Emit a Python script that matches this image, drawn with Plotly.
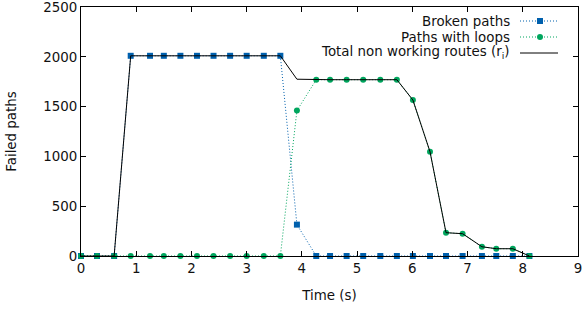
import plotly.graph_objects as go

time_s = [0, 0.29, 0.6, 0.9, 1.25, 1.5, 1.8, 2.1, 2.4, 2.7, 3.0, 3.31, 3.61,
          3.91, 4.26, 4.51, 4.81, 5.11, 5.42, 5.72, 6.01, 6.32, 6.61, 6.91,
          7.26, 7.52, 7.82, 8.12]
broken_paths = [0, 0, 0, 2010, 2010, 2010, 2010, 2010, 2010, 2010, 2010, 2010, 2010,
                315, 0, 0, 0, 0, 0, 0, 0, 0, 0, 0, 0, 0, 0, 0]
loop_paths = [0, 0, 0, 0, 0, 0, 0, 0, 0, 0, 0, 0, 0,
              1460, 1770, 1770, 1770, 1770, 1770, 1770, 1566, 1047, 234, 224,
              93, 73, 73, 0]
total_routes = [b + l for b, l in zip(broken_paths, loop_paths)]

x_ticks = list(range(0, 10))
y_ticks = [0, 500, 1000, 1500, 2000, 2500]

BLUE = "#0060ad"
GREEN = "#00a65e"
FONT = "DejaVu Sans"
FS = 13.4
DOT = "1px,2px"

fig = go.Figure()
fig.add_trace(go.Scatter(x=time_s, y=broken_paths, mode="lines+markers",
                         line=dict(color=BLUE, width=1, dash=DOT),
                         marker=dict(symbol="square", size=6, color=BLUE),
                         name="Broken paths", showlegend=False, cliponaxis=False))
fig.add_trace(go.Scatter(x=time_s, y=loop_paths, mode="lines+markers",
                         line=dict(color=GREEN, width=1, dash=DOT),
                         marker=dict(symbol="circle", size=6, color=GREEN),
                         name="Paths with loops", showlegend=False, cliponaxis=False))
fig.add_trace(go.Scatter(x=time_s, y=total_routes, mode="lines",
                         line=dict(color="black", width=1),
                         name="Total non working routes", showlegend=False, cliponaxis=False))

W, H = 582, 311
L, R, T, B = 81, 4, 7, 55
pw, ph = W - L - R, H - T - B

def px(x):
    return (x - L) / pw

def py(y):
    return (H - B - y) / ph

legend_items = [
    ("Broken paths", BLUE, DOT, "square"),
    ("Paths with loops", GREEN, DOT, "circle"),
    ("Total non working routes (r<sub>i</sub>)", "black", "solid", None),
]
row_y = [21, 37, 53]
shapes = []
annotations = []
for (label, color, dash, marker), yy in zip(legend_items, row_y):
    annotations.append(dict(x=px(512), y=py(yy), xref="paper", yref="paper",
                            text=label, showarrow=False, xanchor="right",
                            yanchor="middle", font=dict(family=FONT, size=FS, color="#111")))
    shapes.append(dict(type="line", xref="paper", yref="paper",
                       x0=px(520), x1=px(558), y0=py(yy), y1=py(yy),
                       line=dict(color=color, width=1, dash=dash)))
    if marker == "square":
        shapes.append(dict(type="rect", xref="paper", yref="paper",
                           xsizemode="pixel", ysizemode="pixel",
                           xanchor=px(540), yanchor=py(yy),
                           x0=-3, x1=3, y0=-3, y1=3,
                           fillcolor=color, line=dict(width=0)))
    elif marker == "circle":
        shapes.append(dict(type="circle", xref="paper", yref="paper",
                           xsizemode="pixel", ysizemode="pixel",
                           xanchor=px(540), yanchor=py(yy),
                           x0=-3, x1=3, y0=-3, y1=3,
                           fillcolor=color, line=dict(width=0)))

fig.update_layout(
    width=W, height=H,
    margin=dict(l=L, r=R, t=T, b=B, autoexpand=False),
    plot_bgcolor="white", paper_bgcolor="white",
    font=dict(family=FONT, size=FS, color="#111"),
    shapes=shapes, annotations=annotations,
    showlegend=False,
)
fig.update_xaxes(range=[0, 9], tickvals=x_ticks, ticks="inside", ticklen=5,
                 tickcolor="black", showline=True, linecolor="black", linewidth=1,
                 mirror="ticks", showgrid=False, zeroline=False, automargin=False,
                 ticklabeloverflow="allow",
                 title=dict(text="Time (s)", standoff=15, font=dict(family=FONT, size=FS)),
                 tickfont=dict(family=FONT, size=FS))
fig.update_yaxes(range=[0, 2500], tickvals=y_ticks, ticks="inside", ticklen=5,
                 tickcolor="black", showline=True, linecolor="black", linewidth=1,
                 mirror="ticks", showgrid=False, zeroline=False, automargin=False,
                 ticklabeloverflow="allow",
                 title=dict(text="Failed paths", standoff=23, font=dict(family=FONT, size=FS)),
                 tickfont=dict(family=FONT, size=FS))

post = ("document.body.style.margin='0';document.body.style.padding='0';"
        "document.body.style.overflow='hidden';"
        "Plotly.relayout('{plot_id}', {width: %d, height: %d});" % (W, H))
fig.write_html("out.html", post_script=post,
               config={"responsive": False, "displayModeBar": False})
